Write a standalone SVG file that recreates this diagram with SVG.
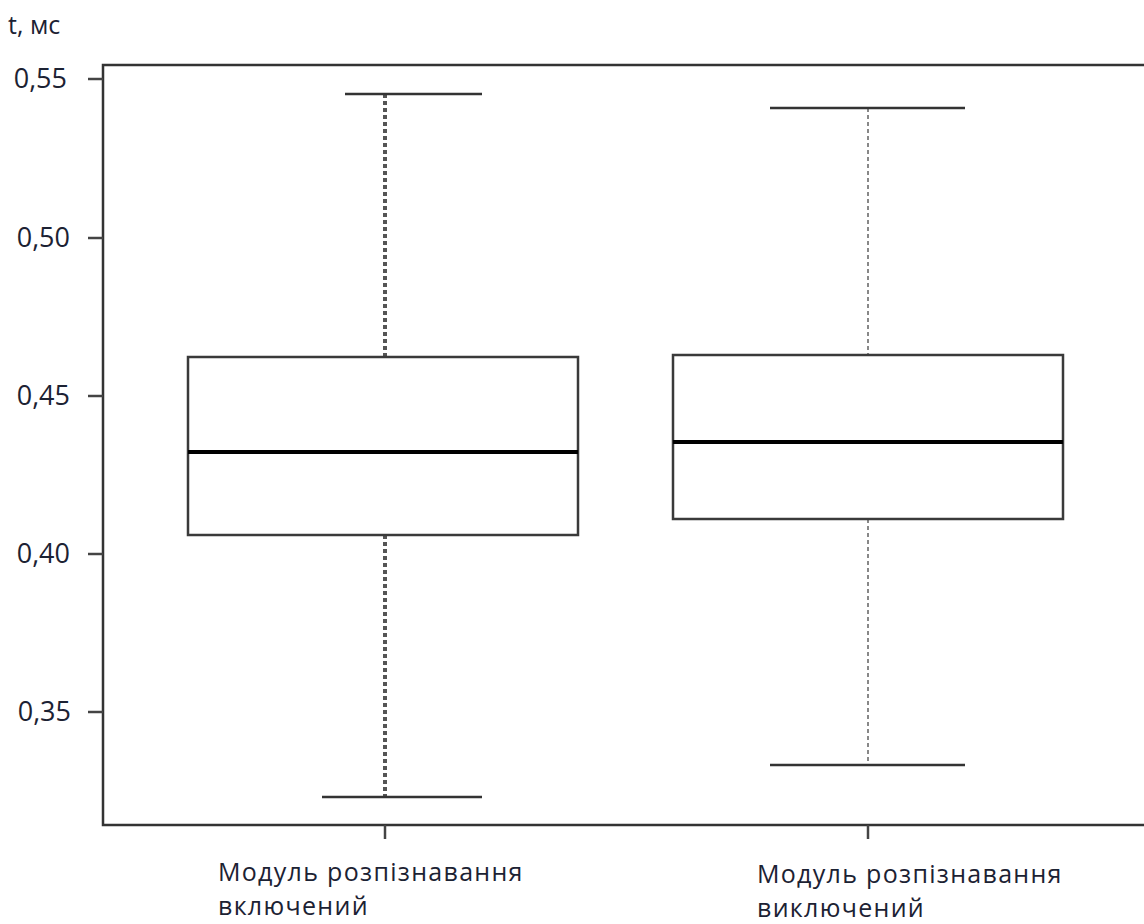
<svg xmlns="http://www.w3.org/2000/svg" width="1144" height="924" viewBox="0 0 1144 924">
  <style>
    .lbl { font-family: "Open Sans", "Noto Sans", "DejaVu Sans", sans-serif; font-size: 25px; letter-spacing: 1.3px; fill: #1c2233; }
    .num { font-family: "Open Sans", "Noto Sans", "DejaVu Sans", sans-serif; font-size: 27px; fill: #1c2233; text-anchor: end; }
    .frame { stroke: #333; stroke-width: 2.5; fill: none; }
    .tick { stroke: #444; stroke-width: 2.5; }
    .box { fill: #fff; stroke: #3a3a3a; stroke-width: 2.5; }
    .med { stroke: #000; stroke-width: 4; }
    .cap { stroke: #333; stroke-width: 2.5; }
  </style>
  <rect width="1144" height="924" fill="#fff"/>

  <g id="axes">
    <path class="frame" d="M1144,65 H103 V825 H1144"/>
    <line class="tick" x1="88" y1="79" x2="103" y2="79"/>
    <line class="tick" x1="88" y1="238" x2="103" y2="238"/>
    <line class="tick" x1="88" y1="396" x2="103" y2="396"/>
    <line class="tick" x1="88" y1="554" x2="103" y2="554"/>
    <line class="tick" x1="88" y1="712" x2="103" y2="712"/>
    <line class="tick" x1="385" y1="825" x2="385" y2="839"/>
    <line class="tick" x1="868" y1="825" x2="868" y2="839"/>
    <text class="lbl" x="8" y="34" style="letter-spacing:0">t, мс</text>
    <text class="num" x="67" y="88">0,55</text>
    <text class="num" x="70" y="247">0,50</text>
    <text class="num" x="70" y="405">0,45</text>
    <text class="num" x="70" y="563">0,40</text>
    <text class="num" x="71" y="721">0,35</text>
  </g>

  <g id="connectors">
    <line x1="385" y1="94" x2="385" y2="357" stroke="#555" stroke-width="4" stroke-dasharray="4,3"/>
    <line x1="385" y1="535" x2="385" y2="797" stroke="#555" stroke-width="4" stroke-dasharray="4,3"/>
    <line x1="868" y1="108" x2="868" y2="355" stroke="#888" stroke-width="2" stroke-dasharray="4,3"/>
    <line x1="868" y1="519" x2="868" y2="765" stroke="#888" stroke-width="2" stroke-dasharray="4,3"/>
  </g>

  <g id="box-on">
    <line class="cap" x1="345" y1="94" x2="482" y2="94"/>
    <line class="cap" x1="322" y1="797" x2="482" y2="797" stroke="#999"/>
    <rect class="box" x="188" y="357" width="390" height="178"/>
    <line class="med" x1="188" y1="452" x2="578" y2="452"/>
  </g>

  <g id="box-off">
    <line class="cap" x1="770" y1="108" x2="965" y2="108"/>
    <line class="cap" x1="770" y1="765" x2="965" y2="765" stroke="#666"/>
    <rect class="box" x="673" y="355" width="390" height="164"/>
    <line class="med" x1="673" y1="442" x2="1063" y2="442"/>
  </g>

  <g id="labels">
    <text class="lbl" x="218" y="881">Модуль розпізнавання</text>
    <text class="lbl" x="218" y="915">включений</text>
    <text class="lbl" x="757" y="883">Модуль розпізнавання</text>
    <text class="lbl" x="757" y="917">виключений</text>
  </g>
</svg>
